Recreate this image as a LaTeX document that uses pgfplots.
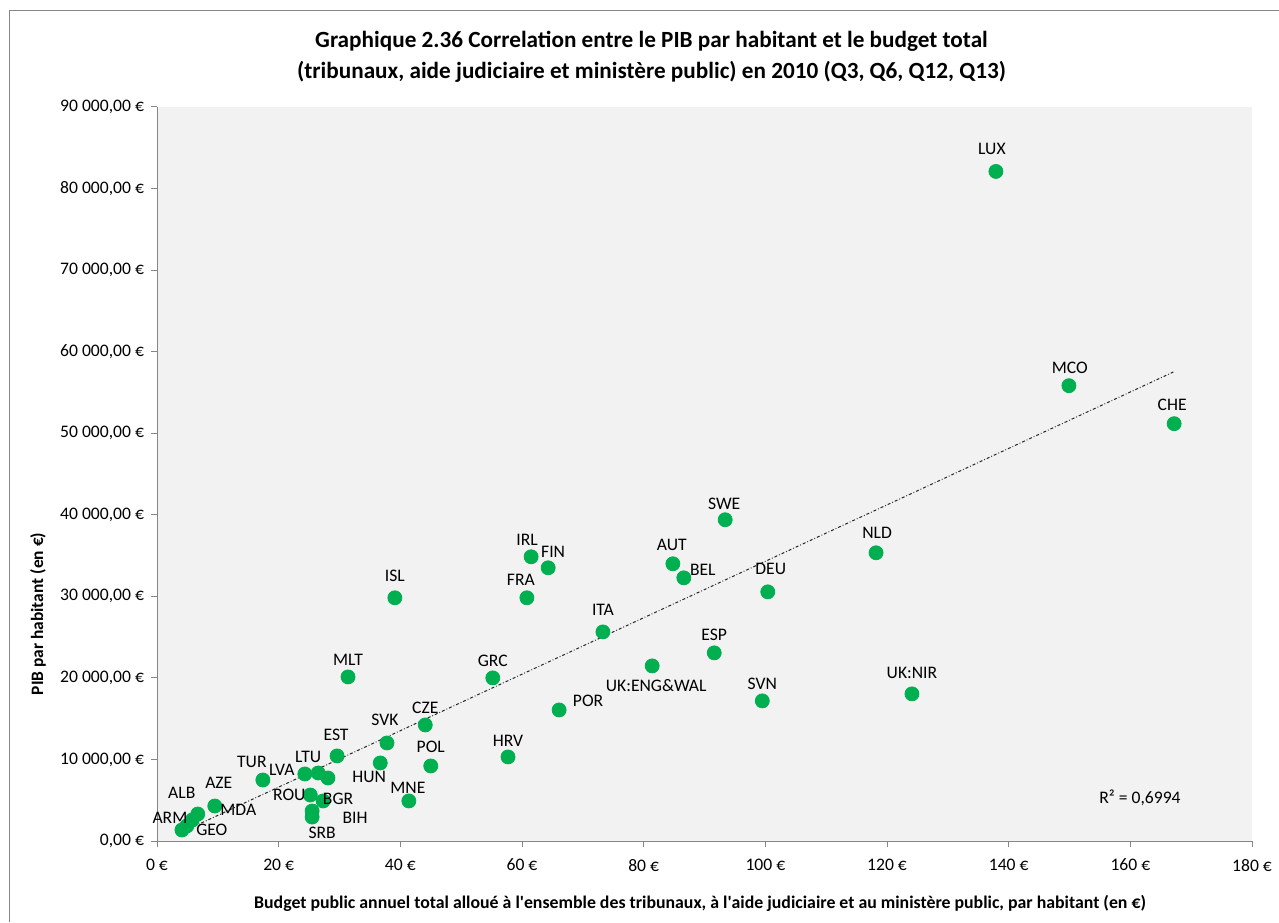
\documentclass[border=0pt]{standalone}
\usepackage{pgfplots}
\pgfplotsset{compat=1.18}
\usepackage{pgfplotstable}
\usepackage{fontspec}
\setmainfont{Carlito}
\definecolor{ptgreen}{HTML}{00B050}
\definecolor{axgray}{HTML}{868686}
\definecolor{bggray}{HTML}{F2F2F2}

\pgfplotstableread{
x y lab dx dy
137.9 82100 LUX -2 11.5
149.9 55830 MCO 0.5 9
167.2 51170 CHE -1 9.5
93.4 39390 SWE -0.5 8
118.2 35340 NLD 0.5 10
61.5 34850 IRL -2 8.5
64.3 33500 FIN 2.5 8
84.8 33990 AUT -0.5 9.5
86.6 32270 BEL 9.5 4
100.4 30550 DEU 1.5 11.5
39.1 29820 ISL 0 11
60.8 29820 FRA -3 9
73.3 25640 ITA 0 11
91.6 23070 ESP 0 9
81.4 21470 UK:ENG\&WAL 2 -10
55.2 20000 GRC 0 8.5
31.4 20120 MLT 0 8.5
99.5 17180 SVN 0 8.5
124.1 18040 UK:NIR 0 10.5
66.1 16070 POR 14.5 4.5
44.1 14230 CZE 0 8.5
37.8 12020 SVK -1 11.5
29.6 10430 EST -0.5 10.5
57.7 10310 HRV 0 8
36.7 9570 HUN -5.5 -7
45.0 9200 POL 0 9.5
41.4 4910 MNE -0.5 6.5
17.4 7480 TUR -5.5 9
24.3 8220 LVA -11.5 2
26.5 8340 LTU -5 8
25.2 5640 ROU -10.5 0
27.3 4910 BGR 7.5 1
25.5 3680 BIH 21.5 -3.5
25.5 2940 SRB 5 -8
9.5 4290 AZE 2 11.5
6.7 3310 ALB -8 10.5
5.8 2580 MDA 23 5
4.9 1840 GEO 12.5 -2
4.1 1350 ARM -6 6
}\pts

\begin{document}
\begin{tikzpicture}[x=1pt,y=1pt]
\path[use as bounding box] (0,0) rectangle (639.5,461);
\draw[color=axgray, line width=0.75pt] (4.75,0) -- (4.75,455.75) -- (639.5,455.75);
\begin{axis}[
  at={(78.5pt,40.5pt)}, anchor=south west,
  scale only axis, width=547.5pt, height=367pt,
  xmin=0, xmax=180, ymin=0, ymax=90000,
  axis x line*=bottom, axis y line*=left,
  axis line style={axgray, -},
  axis background/.style={fill=bggray},
  clip=false,
  xtick={0,20,...,180},
  xticklabels={{0 €},{20 €},{40 €},{60 €},{80 €},{100 €},{120 €},{140 €},{160 €},{180 €}},
  ytick={0,10000,...,90000},
  yticklabels={{0,00 €},{10 000,00 €},{20 000,00 €},{30 000,00 €},{40 000,00 €},{50 000,00 €},{60 000,00 €},{70 000,00 €},{80 000,00 €},{90 000,00 €}},
  scaled ticks=false,
  tick style={axgray, line width=0.5pt},
  major tick length=3pt, tick align=outside,
  every tick label/.append style={font=\fontsize{8.8}{10}\selectfont, text=black},
  xticklabel style={yshift=-2.5pt},
]
\addplot[black!85, line width=0.5pt, dash pattern=on 1.5pt off 1pt on 0.4pt off 1pt] coordinates {(3.8,1000) (167.2,57550)};
\addplot[only marks, mark=*, mark size=3.5pt, color=ptgreen,
  mark options={draw=ptgreen, fill=ptgreen},
  nodes near coords, point meta=explicit symbolic,
  visualization depends on={\thisrow{dx}\as\dx},
  visualization depends on={\thisrow{dy}\as\dy},
  every node near coord/.append style={anchor=center, xshift=\dx, yshift=\dy, text=black, font=\fontsize{8.8}{10}\selectfont, inner sep=0pt}]
  table[x=x, y=y, meta=lab]{\pts};
\addplot[only marks, mark=*, mark size=3.5pt, color=ptgreen,
  mark options={draw=ptgreen, fill=ptgreen}] coordinates {(28.1,7730)};
\end{axis}
\node[font=\bfseries\fontsize{11.6}{15.5}\selectfont, align=center] at (325.75,432.75)
  {Graphique 2.36 Correlation entre le PIB par habitant et le budget total\\(tribunaux, aide judiciaire et ministère public) en 2010 (Q3, Q6, Q12, Q13)};
\node[font=\bfseries\fontsize{8.9}{10}\selectfont] at (350,9.5)
  {Budget public annuel total alloué à l\textquotesingle ensemble des tribunaux, à l\textquotesingle aide judiciaire et au ministère public, par habitant (en €)};
\node[font=\bfseries\fontsize{8.7}{10}\selectfont, rotate=90] at (19,154) {PIB par habitant (en €)};
\node[font=\fontsize{8.8}{10}\selectfont] at (570,62) {R² = 0,6994};
\end{tikzpicture}
\end{document}
